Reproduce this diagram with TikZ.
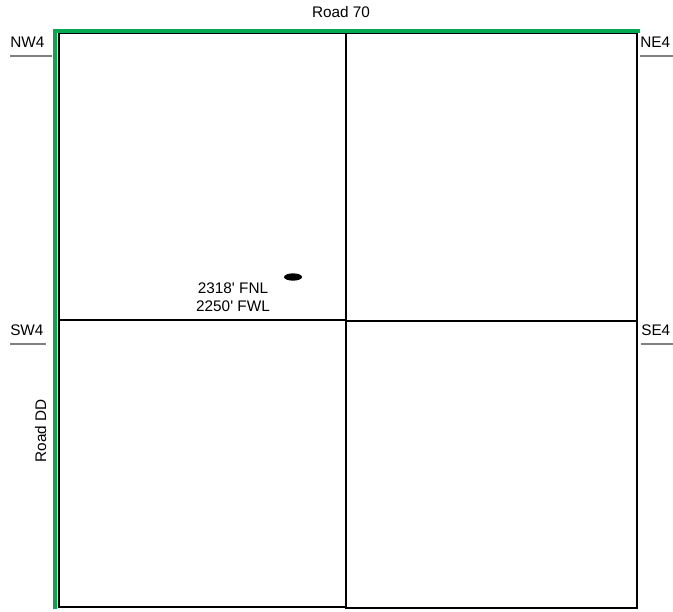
\documentclass[tikz,border=0pt]{standalone}
\usepackage{fontspec}
\setmainfont{Liberation Sans}
\usetikzlibrary{shapes.geometric}
\definecolor{roadgreen}{RGB}{0,170,80}
\definecolor{ulgray}{RGB}{128,128,128}
\tikzset{
  lbl/.style={inner sep=0pt, font=\fontsize{11.5pt}{13pt}\selectfont},
  road/.style={draw=roadgreen, line width=3pt},
  sect/.style={draw=black, line width=1.5pt},
  uline/.style={draw=ulgray, line width=1.6pt},
}
\begin{document}
\begin{tikzpicture}[x=0.75pt,y=-0.75pt]
\useasboundingbox (0,0) rectangle (673,611);
% section lines
\coordinate (tl) at (58.5,33);
\coordinate (tm) at (346,33);
\coordinate (tr) at (637,33);
\coordinate (ml) at (58.5,320);
\coordinate (mm) at (346,320);
\coordinate (mm2) at (346,321);
\coordinate (mr) at (637,321);
\coordinate (bl) at (58.5,607);
\coordinate (bm) at (346,607);
\coordinate (bm2) at (346,608);
\coordinate (br) at (637,608);
\draw[sect] (tl) -- (tr) -- (br) -- (bm2) -- (bm) -- (bl) -- cycle;
\draw[sect] (tm) -- (bm2);
\draw[sect] (ml) -- (mm);
\draw[sect] (mm2) -- (mr);
% roads
\coordinate (g1) at (55.3,609);
\coordinate (g2) at (55.3,30.7);
\coordinate (g3) at (640,30.7);
\draw[road] (g1) -- (g2) -- (g3);
% labels
\node[lbl, anchor=base] (r70) at (341,17) {Road 70};
\node[lbl, anchor=base, rotate=90] (rdd) at (46,431) {Road DD};
\node[lbl, anchor=base west] (nw) at (10,47) {NW4};
\node[lbl, anchor=base west] (ne) at (640,47) {NE4};
\node[lbl, anchor=base west] (sw) at (10,335) {SW4};
\node[lbl, anchor=base west] (se) at (641,335) {SE4};
\coordinate (nwa) at (10,56); \coordinate (nwb) at (52,56);
\coordinate (nea) at (640,56); \coordinate (neb) at (673,56);
\coordinate (swa) at (10,344); \coordinate (swb) at (46,344);
\coordinate (sea) at (641,344); \coordinate (seb) at (673,344);
\draw[uline] (nwa) -- (nwb);
\draw[uline] (nea) -- (neb);
\draw[uline] (swa) -- (swb);
\draw[uline] (sea) -- (seb);
% well
\node[fill=black, ellipse, minimum width=13.5pt, minimum height=5.5pt, inner sep=0pt] (well) at (293,277) {};
\node[lbl, anchor=base] (fnl) at (233,293) {2318\textquotesingle{} FNL};
\node[lbl, anchor=base] (fwl) at (233,311) {2250\textquotesingle{} FWL};
\end{tikzpicture}
\end{document}
